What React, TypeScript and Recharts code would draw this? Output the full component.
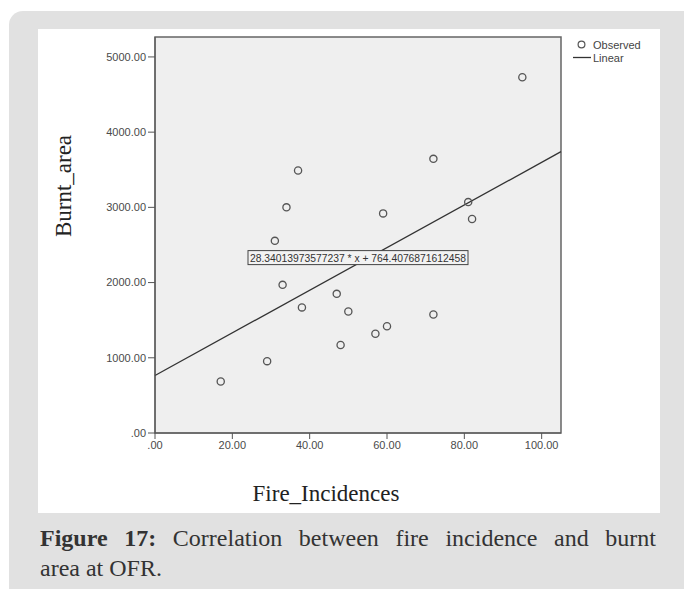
import React from 'react';
import { ScatterChart, Scatter, XAxis, YAxis, ReferenceArea, ReferenceLine } from 'recharts';

// observed points (fire incidences vs burnt area)
const fireIncidences = [17, 29, 31, 33, 34, 37, 38, 47, 48, 50, 57, 59, 60, 72, 72, 81, 82, 95];
const burntArea = [685, 955, 2555, 1970, 3000, 3490, 1670, 1850, 1170, 1615, 1320, 2920, 1420, 3645, 1575, 3070, 2845, 4730];

// fitted line from the label
const slope = 28.34013973577237;
const intercept = 764.4076871612458;
const fitLabel = '28.34013973577237 * x + 764.4076871612458';

const xTicks = [0, 20, 40, 60, 80, 100];
const yTicks = [0, 1000, 2000, 3000, 4000, 5000];
const xMax = 105;
const yMax = 5265;

const points = fireIncidences.map((x, i) => ({ x, y: burntArea[i] }));

const fmt = (v: number) => (v === 0 ? '.00' : v.toFixed(2));

const tickStyle = { fontFamily: 'Liberation Sans, Arial, sans-serif', fontSize: 11, fill: '#4a4a4a' };
const serif = 'Liberation Serif, Times New Roman, serif';

const Circle = (props: any) => (
  <circle cx={props.cx} cy={props.cy} r={3.6} fill="none" stroke="#555" strokeWidth={1.3} />
);

const FitLabel = (props: any) => {
  const vb = props.viewBox || {};
  const cx = vb.x + vb.width / 2;
  const cy = vb.y + vb.height / 2 - 6;
  return (
    <g>
      <rect x={cx - 110} y={cy - 7} width={220} height={14} fill="#f2f2f2" stroke="#444" strokeWidth={1} />
      <text x={cx} y={cy} textAnchor="middle" dominantBaseline="central" textLength={216} lengthAdjust="spacingAndGlyphs"
        style={{ fontFamily: 'Liberation Sans, Arial, sans-serif', fontSize: 11, fill: '#333' }}>
        {fitLabel}
      </text>
    </g>
  );
};

export default function App() {
  return (
    <div style={{ position: 'absolute', left: 0, top: 0, width: 684, height: 589, overflow: 'hidden', background: '#fff' }}>
      <div style={{ position: 'absolute', left: 9, top: 11, width: 720, height: 640, background: '#e1e1e1', borderRadius: 14 }} />
      <div style={{ position: 'absolute', left: 38, top: 29, width: 622, height: 484, background: '#fff' }} />
      <div style={{ position: 'absolute', left: 0, top: 0 }}>
        <ScatterChart width={684} height={589} margin={{ top: 37, right: 123, bottom: 126, left: 95 }}>
          <XAxis type="number" dataKey="x" domain={[0, xMax]} ticks={xTicks} tickFormatter={fmt}
            height={30} tickSize={6} tick={tickStyle} stroke="#555" allowDataOverflow />
          <YAxis type="number" dataKey="y" domain={[0, yMax]} ticks={yTicks} tickFormatter={fmt}
            width={60} tickSize={7} tick={tickStyle} stroke="#555" allowDataOverflow />
          <ReferenceArea x1={0} x2={xMax} y1={0} y2={yMax} fill="#efefef" fillOpacity={1} stroke="#666" strokeWidth={1.5} />
          <ReferenceLine
            segment={[{ x: 0, y: intercept }, { x: xMax, y: intercept + slope * xMax }]}
            stroke="#333" strokeWidth={1.3} label={<FitLabel />} />
          <Scatter data={points} shape={<Circle />} isAnimationActive={false} />
          <text x={63} y={186} transform="rotate(-90 63 186)" textAnchor="middle" dominantBaseline="central"
            style={{ fontFamily: serif, fontSize: 23, fill: '#222' }}>Burnt_area</text>
          <text x={326} y={493} textAnchor="middle" dominantBaseline="central"
            style={{ fontFamily: serif, fontSize: 23, fill: '#222' }}>Fire_Incidences</text>
          <g style={{ fontFamily: 'Liberation Sans, Arial, sans-serif', fontSize: 11, fill: '#444' }}>
            <circle cx={581.5} cy={44.5} r={3.4} fill="none" stroke="#555" strokeWidth={1.2} />
            <text x={593} y={44.5} dominantBaseline="central">Observed</text>
            <line x1={573} x2={591} y1={57.5} y2={57.5} stroke="#333" strokeWidth={1.3} />
            <text x={593} y={57.5} dominantBaseline="central">Linear</text>
          </g>
        </ScatterChart>
      </div>
      <div style={{ position: 'absolute', left: 40, top: 523, width: 616, fontFamily: serif,
        fontSize: 24, lineHeight: '30px', color: '#333' }}>
        <div style={{ textAlign: 'justify', textAlignLast: 'justify' }}>
          <b>Figure 17:</b> Correlation between fire incidence and burnt
        </div>
        <div>area at OFR.</div>
      </div>
    </div>
  );
}
